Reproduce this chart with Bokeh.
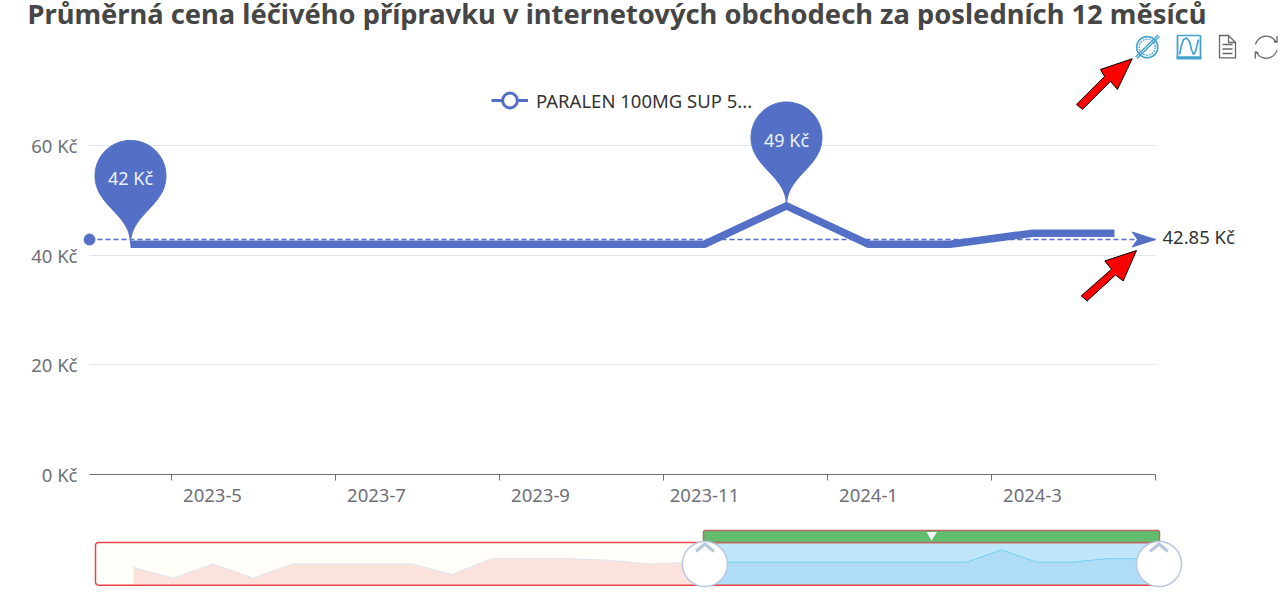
import numpy as np
from bokeh.plotting import figure
from bokeh.layouts import column
from bokeh.models import Range1d, FixedTicker, Title, Legend, LegendItem, ColumnDataSource
from bokeh.core.properties import value
from bokeh.embed import file_html
from bokeh.resources import INLINE

# ---------- data ----------
months = ["2023-4","2023-5","2023-6","2023-7","2023-8","2023-9","2023-10","2023-11","2023-12","2024-1","2024-2","2024-3","2024-4"]
prices = [42,42,42,42,42,42,42,42,49,42,42,44,44]
avg_price = 42.85
y_ticks = [0,20,40,60]
older_prices = [39,33,41,33,41,41,41,41,35,44,44,44,43,41,42]
series_name = "PARALEN 100MG SUP 5..."
title_text = "Průměrná cena léčivého přípravku v internetových obchodech za posledních 12 měsíců"

FONT = "Noto Sans"
BLUE = "#5470c6"
GREY = "#6e7079"
FS = "18.5px"

# ---------- main chart geometry ----------
L, R, T, B = 83, 1282, 32, 475.5     # frame edges on page
BAND = 82.0; X0 = 130.0              # px of one month, px of first month
PY = 5.49                            # px per Kč
SPLIT = 519                          # page y where the overview figure starts
def dx(px): return (np.asarray(px, float) - X0) / BAND
def dy(py): return (B - np.asarray(py, float)) / PY

p = figure(width=1282, height=527, output_backend="svg", toolbar_location=None,
           x_range=Range1d(float(dx(L)), float(dx(R))), y_range=Range1d(0, float(dy(T))),
           min_border_left=L, min_border_right=0, min_border_top=0, min_border_bottom=45,
           frame_width=R-L, frame_height=int(B-T), outline_line_color=None, background_fill_color="white")
p.title = Title(text=title_text, align="left", offset=27-L, text_font=FONT, text_font_size="27.3px",
                text_font_style="bold", text_color="#464646", standoff=0)

n = len(months)
ax = p.xaxis[0]
ax.ticker = FixedTicker(ticks=[i for i in range(1, n, 2)], minor_ticks=[i + .5 for i in range(0, n, 2)])
ax.major_label_overrides = {i: months[i] for i in range(n)}
ax.bounds = (-0.5, n - 0.5)
ax.major_tick_line_color = None
ax.major_tick_in = 0; ax.major_tick_out = 0
ax.minor_tick_in = 0; ax.minor_tick_out = 6
ax.minor_tick_line_color = GREY; ax.axis_line_color = GREY
ax.major_label_text_font = FONT; ax.major_label_text_font_size = FS
ax.major_label_text_color = GREY; ax.major_label_standoff = 8

ay = p.yaxis[0]
ay.ticker = FixedTicker(ticks=y_ticks)
ay.major_label_overrides = {v: f"{v} Kč" for v in y_ticks}
ay.axis_line_color = None; ay.major_tick_line_color = None; ay.minor_tick_line_color = None
ay.major_tick_in = 0; ay.major_tick_out = 0
ay.major_label_text_font = FONT; ay.major_label_text_font_size = FS
ay.major_label_text_color = GREY; ay.major_label_standoff = 6

p.xgrid.visible = False
p.ygrid[0].grid_line_color = "#e0e6f1"
p.ygrid[0].cross_bounds = (-0.5, n - 0.5)
p.ygrid[0].ticker = FixedTicker(ticks=y_ticks[1:])

# average mark line
p.line([-0.5, n - 0.5], [avg_price, avg_price], line_color=BLUE, line_width=1.6, line_dash="5 3")
p.scatter([-0.5], [avg_price], size=11, color=BLUE, marker="circle")
ah_x = np.array([0, -23.3, -18, -23.3])
ah_y = np.array([0, 7.5, 0, -7.5])
p.patch(n - 0.5 + ah_x / BAND, avg_price + ah_y / PY, color=BLUE)
p.text([n - 0.5 + 7 / BAND], [avg_price], text=[f"{avg_price} Kč"], text_font=value(FONT), text_font_size=FS,
       text_color="#333333", text_baseline="middle", y_offset=-3)

# main series
p.line(list(range(n)), prices, line_color=BLUE, line_width=7.5, line_join="miter", line_cap="butt")

# pins (ECharts pin shape)
def pin(w=71.0, h=119.0):
    r = w / 2; d = r * r / (h - r); cy = -h + r + d
    a = np.arcsin(d / r); ddx = np.cos(a) * r
    th = np.linspace(np.pi - a, 2 * np.pi + a, 80)
    arc_x = r * np.cos(th); arc_y = cy + r * np.sin(th)
    def bez(p0, p1, p2, p3):
        t = np.linspace(0, 1, 30)[:, None]
        return ((1-t)**3*np.array(p0) + 3*(1-t)**2*t*np.array(p1) + 3*(1-t)*t**2*np.array(p2) + t**3*np.array(p3))
    tx, ty = np.sin(a), np.cos(a); c1, c2 = r * .6, r * .7
    b1 = bez((ddx, cy+d), (ddx - tx*c1, cy+d+ty*c1), (0, -c2), (0, 0))
    b2 = bez((0, 0), (0, -c2), (-ddx + tx*c1, cy+d+ty*c1), (-ddx, cy+d))
    return np.r_[arc_x, b1[:,0], b2[:,0]], np.r_[arc_y, b1[:,1], b2[:,1]]
px_, py_ = pin()
for i in (int(np.argmin(prices)), int(np.argmax(prices))):
    v = prices[i]
    p.patch(i + px_ / BAND, v - py_ / PY, color=BLUE)
    p.text([i], [v], text=[f"{v} Kč"], text_font=value(FONT), text_font_size="18px", text_color="#eef0f8",
           text_align="center", text_baseline="middle", y_offset=-66)

# legend with its own small glyphs (no data points of their own)
src0 = ColumnDataSource(dict(x=[float("nan")], y=[float("nan")]))
r1 = p.line("x", "y", source=src0, line_color=BLUE, line_width=3)
r2 = p.scatter("x", "y", source=src0, marker="circle", size=16, fill_color="white", line_color=BLUE, line_width=3)
leg = Legend(items=[LegendItem(label=series_name, renderers=[r1, r2])], location=(408, 354), orientation="horizontal",
             background_fill_alpha=0, border_line_color=None, glyph_width=37, glyph_height=40, label_standoff=8,
             label_text_font=FONT, label_text_font_size=FS, label_text_color="#333333",
             margin=0, padding=0)
p.add_layout(leg, "center")

# toolbox icons & red call-out arrows (page pixel geometry)
def pline(xs, ys, color, width=1.5, dash="solid"):
    p.line(dx(xs), dy(ys), line_color=color, line_width=width, line_dash=dash)
def ring(cx, cy, r, a0=0, a1=2*np.pi):
    t = np.linspace(a0, a1, 60)
    return cx + r*np.cos(t), cy + r*np.sin(t)
ICON1 = "#45a2cc"; ICON2 = "#666666"
x_, y_ = ring(1146.7, 47.7, 10.5); pline(x_, y_, ICON1, 1.7)
x_, y_ = ring(1146.7, 47.7, 8); pline(x_, y_, ICON1, 1.2, "2 1")
pline([1135, 1157.5], [57.5, 35.5], ICON1, 1.4); pline([1136.5, 1159], [59, 37], ICON1, 1.4)
pline([1177, 1177, 1200, 1200], [36, 58, 58, 36], ICON1, 1.8)
pline([1177, 1200], [36, 36], ICON1, 1.4)
pline([1176, 1201], [58.5, 58.5], ICON1, 3)
pline([1179, 1181, 1183, 1186, 1189, 1191, 1193, 1195, 1197, 1198], [55, 46, 40, 38.5, 42, 50, 55, 52, 44, 40], ICON1, 1.7)
pline([1228, 1219, 1219, 1235, 1235, 1228, 1228, 1235], [36, 36, 58.5, 58.5, 43, 36, 43, 43], ICON2, 1.3)
for yy in (45, 49.5, 54):
    pline([1222, 1232], [yy, yy], ICON2, 1.3)
x_, y_ = ring(1265.7, 47.7, 11, np.radians(195), np.radians(335)); pline(x_, y_, ICON2, 1.3)
x_, y_ = ring(1265.7, 47.7, 11, np.radians(15), np.radians(155)); pline(x_, y_, ICON2, 1.3)
pline([1273, 1276.5, 1276.5], [42, 43, 36.5], ICON2, 1.3)
pline([1258, 1254.8, 1254.8], [53.5, 52.5, 59], ICON2, 1.3)

arrow1 = ([1131.7, 1100, 1104, 1076, 1082, 1110, 1117], [59.3, 70, 77, 105, 110, 82, 90])
arrow2 = ([1136, 1104.3, 1111, 1080.7, 1086.7, 1115, 1122.7], [251.3, 261.7, 270, 296.7, 301.7, 275.7, 281.7])
for ax_, ay_ in (arrow1, arrow2):
    p.patch(dx(ax_), dy(ay_), fill_color="#ff0000", line_color="#000000", line_width=1)

# ---------- overview (data zoom) ----------
WL, WR = 703.0, 1159.0
OBAND = (WR - WL) / n
Y_BOT = 584.7
OY = 1.77
def ox(px): return (np.asarray(px, float) - (WL + OBAND / 2)) / OBAND
def oy(py): return 42 + (561.7 - np.asarray(py, float)) / OY

o = figure(width=1282, height=613 - SPLIT, output_backend="svg", toolbar_location=None,
           x_range=Range1d(float(ox(L)), float(ox(R))), y_range=Range1d(float(oy(613)), float(oy(SPLIT))),
           min_border=0, min_border_left=L, frame_width=R-L, frame_height=613 - SPLIT,
           outline_line_color=None, x_axis_type=None, y_axis_type=None)
o.grid.visible = False
base = float(oy(Y_BOT)); top = float(oy(542))

def rounded(x0, x1, y0, y1, r=3.0):
    """Rounded-rectangle outline, in page pixels, as data-space arrays."""
    xs, ys = [], []
    for cx, cy, a0 in ((x1-r, y1-r, 0), (x0+r, y1-r, 90), (x0+r, y0+r, 180), (x1-r, y0+r, 270)):
        t = np.radians(np.linspace(a0, a0+90, 8))
        xs += list(cx + r*np.cos(t)); ys += list(cy + r*np.sin(t))
    xs.append(xs[0]); ys.append(ys[0])
    return ox(np.array(xs)), oy(np.array(ys))

older_x = [ox(133 + 39.8 * i) for i in range(len(older_prices))]
win_x = list(range(n))

# left unselected background and area
o.patch(*rounded(95, WR, 542, Y_BOT), fill_color="#fffef8", line_color=None)
ax2 = np.r_[older_x, ox(WL)]; ay2 = np.r_[older_prices, prices[0]]
o.patch(np.r_[ax2, ax2[-1], ax2[0]], np.r_[ay2, base, base], fill_color="#fbe2dc", line_color=None)
o.line(ax2, ay2, line_color="#dfe3ef", line_width=1)
# selected window
o.patch([ox(WL), ox(WR), ox(WR), ox(WL)], [base, base, top, top], fill_color="#c0e6fa", line_color=None)
wx = np.r_[ox(WL), win_x, ox(WR)]; wy = np.r_[prices[0], prices, prices[-1]]
o.patch(np.r_[wx, wx[-1], wx[0]], np.r_[wy, base, base], fill_color="#afdcf6", line_color=None)
o.line(wx, wy, line_color="#73d0ee", line_width=1)
# red frame
o.line(*rounded(95, WR, 542, Y_BOT), line_color="#ea4448", line_width=1.5)
# green bar
o.patch(*rounded(WL, WR, 530, 542, 2), fill_color="#62bd6f", line_color="#b86a5c", line_width=1.5)
o.patch([ox(926), ox(936.5), ox(931)], [oy(531.5), oy(531.5), oy(540)], fill_color="white", line_color=None)
# handles
for hx in (704.4, 1158.5):
    t = np.linspace(0, 2*np.pi, 90)
    o.patch(ox(hx + 22.5*np.cos(t)), oy(563.5 + 22.5*np.sin(t)), fill_color="white", line_color="#b8c6e0", line_width=1.5)
    o.line(ox(np.array([hx-9, hx, hx+9])), oy(np.array([551, 543.5, 551])), line_color="#b8c6e0", line_width=3)

root = column(p, o, spacing=0, styles={"margin-top": "-8px"})
open("out.html", "w").write(file_html(root, INLINE))
